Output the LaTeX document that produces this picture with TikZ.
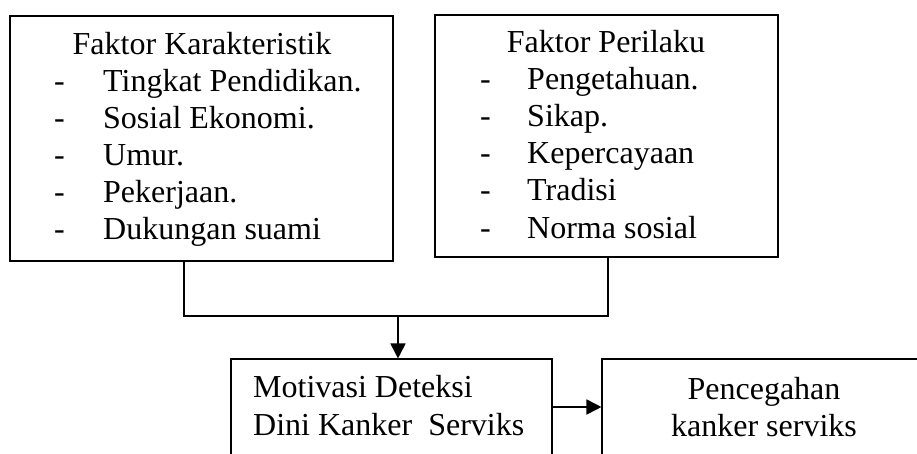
\documentclass[tikz,border=0pt]{standalone}
\usepackage{fontspec}
\setmainfont{Liberation Serif}
\usetikzlibrary{arrows.meta}
\begin{document}
\begin{tikzpicture}[x=1pt,y=-1pt,
  box/.style={draw=black,line width=1.1pt,rectangle,inner sep=0pt},
  txt/.style={inner sep=0pt,font=\fontsize{32}{37}\selectfont},
  item/.style={txt,anchor=base west},
  dashmark/.style={txt,anchor=base west},
  conn/.style={line width=1.3pt},
  arr/.style={line width=1.8pt,-{Triangle[length=15pt,width=15pt]}}]
\useasboundingbox (0,0) rectangle (917,454);
\clip (0,0) rectangle (917,454);
% boxes
\node[box,minimum width=383pt,minimum height=245pt] (k) at (201.5,138.5) {};
\node[box,minimum width=343pt,minimum height=242pt] (p) at (606.5,136) {};
\node[box,minimum width=321pt,minimum height=130pt] (m) at (391.5,424) {};
\node[box,minimum width=340pt,minimum height=130pt] (c) at (772,424) {};
% box 1 text
\node[txt,anchor=base] (kt) at (202,55) {Faktor Karakteristik};
\foreach \y/\t [count=\i] in {92/Tingkat Pendidikan.,129/Sosial Ekonomi.,166/Umur.,203/Pekerjaan.,240/Dukungan suami}{
  \node[dashmark] (kd\i) at (54,\y) {-};
  \node[item] (ki\i) at (103,\y) {\t};
}
% box 2 text
\node[txt,anchor=base] (pt) at (606,53) {Faktor Perilaku};
\foreach \y/\t [count=\i] in {90/Pengetahuan.,127/Sikap.,164/Kepercayaan,201/Tradisi,238/Norma sosial}{
  \node[dashmark] (pd\i) at (480,\y) {-};
  \node[item] (pi\i) at (527,\y) {\t};
}
% bottom boxes text
\node[item] (m1) at (253,397) {Motivasi Deteksi};
\node[item] (m2) at (253,435) {Dini Kanker\ \ Serviks};
\node[txt,anchor=base] (c1) at (764,399) {Pencegahan};
\node[txt,anchor=base] (c2) at (764,436) {kanker serviks};
% connectors
\coordinate (j1) at (184,316);
\coordinate (j2) at (608,316);
\coordinate (j3) at (398,316);
\coordinate (ay) at (0,407);
\draw[conn] (k.south -| j1) -- (j1) -- (j2) -- (p.south -| j2);
\draw[arr] (j3) -- (m.north -| j3);
\draw[arr] (m.east |- ay) -- (c.west |- ay);
\end{tikzpicture}
\end{document}
